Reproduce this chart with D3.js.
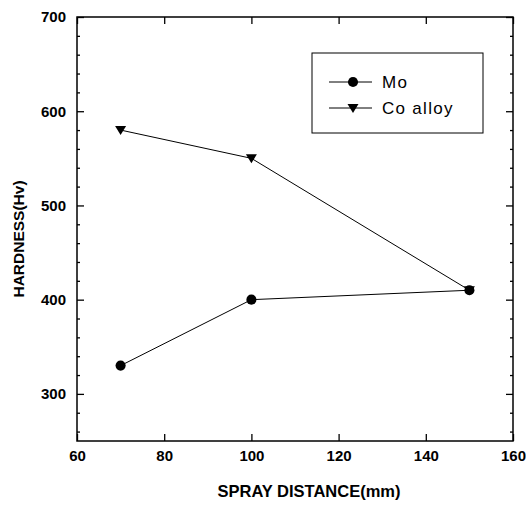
<!DOCTYPE html>
<html>
<head>
<meta charset="utf-8">
<script src="https://cdn.jsdelivr.net/npm/d3@7"></script>
<style>
  body { margin: 0; background: #fff; }
  text { font-family: "Liberation Sans", Arial, sans-serif; fill: #000; }
</style>
</head>
<body>
<div id="chart"></div>
<script>
// data
const distances = [70, 100, 150];
const moHardness = [330, 400, 410];
const coHardness = [580, 550, 410];
const seriesNames = ['Mo', 'Co alloy'];
const xTicks = [60, 80, 100, 120, 140, 160];
const yTicks = [300, 400, 500, 600, 700];

const width = 526;
const height = 505;
const margins = { top: 17, right: 13, bottom: 64, left: 77 };
const innerWidth = width - margins.left - margins.right;
const innerHeight = height - margins.top - margins.bottom;

const svg = d3.select('#chart').append('svg').attr('width', width).attr('height', height);
const g = svg.append('g').attr('transform', `translate(${margins.left},${margins.top})`);

const x = d3.scaleLinear().domain([60, 160]).range([0, innerWidth]);
const y = d3.scaleLinear().domain([250, 700]).range([innerHeight, 0]);

// frame
g.append('rect')
    .attr('width', innerWidth).attr('height', innerHeight)
    .attr('fill', 'none').attr('stroke', '#000').attr('stroke-width', 1.5);

// x ticks (inward, bottom and top)
g.append('g').attr('transform', `translate(0,${innerHeight})`)
    .call(d3.axisBottom(x).tickValues(xTicks).tickSize(-7).tickPadding(9).tickFormat(d3.format('d')))
    .call(a => a.select('.domain').remove());
g.append('g')
    .call(d3.axisTop(x).tickValues(xTicks).tickSize(-7).tickFormat(''))
    .call(a => a.select('.domain').remove());

// y minor ticks
const yMinor = d3.range(260, 700, 20).filter(v => v % 100 !== 0);
g.append('g')
    .call(d3.axisLeft(y).tickValues(yMinor).tickSize(-3).tickFormat(''))
    .call(a => a.select('.domain').remove());
g.append('g').attr('transform', `translate(${innerWidth},0)`)
    .call(d3.axisRight(y).tickValues(yMinor).tickSize(-3).tickFormat(''))
    .call(a => a.select('.domain').remove());

// y major ticks
g.append('g')
    .call(d3.axisLeft(y).tickValues(yTicks).tickSize(-7).tickPadding(11))
    .call(a => a.select('.domain').remove());
g.append('g').attr('transform', `translate(${innerWidth},0)`)
    .call(d3.axisRight(y).tickValues(yTicks).tickSize(-7).tickFormat(''))
    .call(a => a.select('.domain').remove());

g.selectAll('.tick line').attr('stroke', '#000').attr('stroke-width', 1.3);
g.selectAll('.tick text')
    .attr('fill', '#000')
    .style('font-family', '"Liberation Sans", Arial, sans-serif')
    .style('font-size', '15px').style('font-weight', 'bold');

// axis labels
svg.append('text')
    .attr('x', 309)
    .attr('y', 497)
    .attr('text-anchor', 'middle')
    .style('font-size', '16.5px').style('font-weight', 'bold')
    .text('SPRAY DISTANCE(mm)');

svg.append('text')
    .attr('transform', 'translate(24,239) rotate(-90)')
    .attr('text-anchor', 'middle')
    .style('font-size', '15.5px').style('font-weight', 'bold')
    .text('HARDNESS(Hv)');

// series
const line = d3.line().x(d => x(d[0])).y(d => y(d[1]));
const moPts = distances.map((d, i) => [d, moHardness[i]]);
const coPts = distances.map((d, i) => [d, coHardness[i]]);

const circle = d3.symbol().type(d3.symbolCircle).size(80);
const triangleDown = sel => sel.attr('d', 'M-5.5,-4L5.5,-4L0,5Z');

function drawSeries(pts, marker) {
    g.append('path').datum(pts)
        .attr('d', line).attr('fill', 'none').attr('stroke', '#000').attr('stroke-width', 1);
    const m = g.selectAll(null).data(pts).join('path')
        .attr('transform', d => `translate(${x(d[0])},${y(d[1])})`)
        .attr('fill', '#000');
    marker(m);
}
drawSeries(moPts, s => s.attr('d', circle));
drawSeries(coPts, triangleDown);

// legend
const legend = svg.append('g').attr('transform', 'translate(312,53)');
legend.append('rect').attr('width', 171).attr('height', 80)
    .attr('fill', 'none').attr('stroke', '#000').attr('stroke-width', 1);

const items = legend.selectAll('.legend-item').data(seriesNames).join('g')
    .attr('class', 'legend-item')
    .attr('transform', (_, i) => `translate(0,${29 + i * 26})`);
items.append('line').attr('x1', 17).attr('x2', 60).attr('stroke', '#000');
items.append('path')
    .attr('transform', 'translate(41,0)')
    .each(function (d, i) {
        if (i === 0) d3.select(this).attr('d', circle);
        else triangleDown(d3.select(this));
    })
    .attr('fill', '#000');
items.append('text').attr('x', 70).attr('y', 6)
    .style('font-size', '17px').style('letter-spacing', '1.3px')
    .text(d => d);
</script>
</body>
</html>
